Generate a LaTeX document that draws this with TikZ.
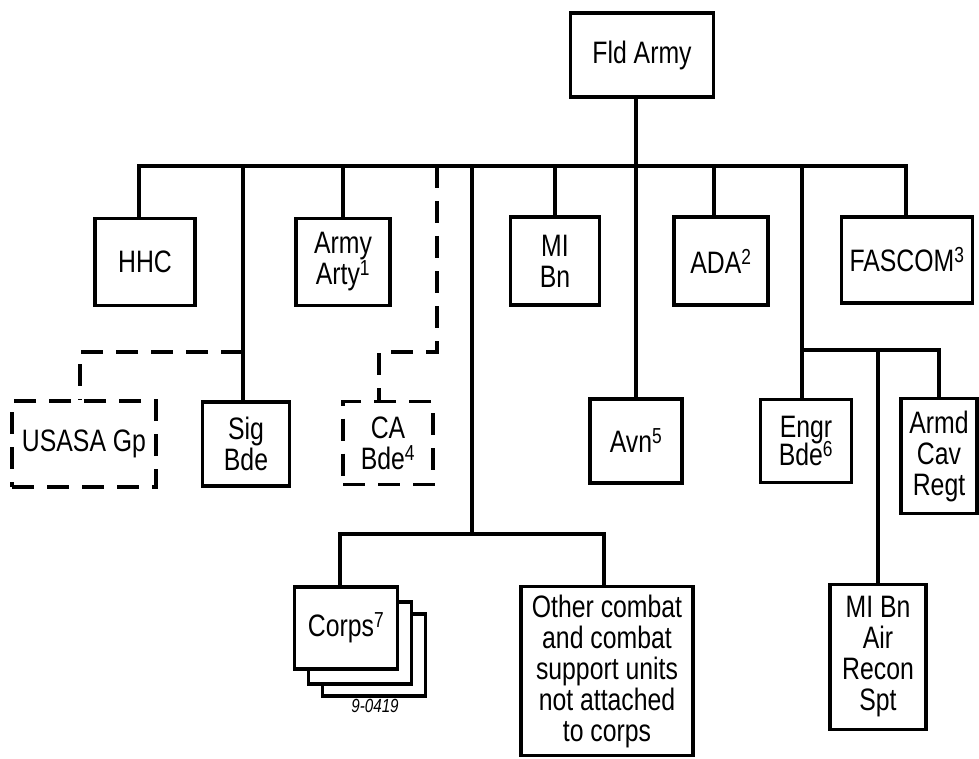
\documentclass[tikz,border=0pt]{standalone}
\usepackage{fontspec}
\setmainfont{Liberation Sans}[FakeStretch=0.8]
\begin{document}
\begin{tikzpicture}[x=1pt,y=-1pt,
  box/.style={draw, line width=3.5pt, inner sep=0pt, align=center, fill=white,
              font=\fontsize{31}{31}\selectfont},
  dbox/.style={box, dash pattern=on 22pt off 13pt},
  conn/.style={line width=4pt, line cap=rect},
  dconn/.style={line width=4pt, dash pattern=on 22pt off 13pt}]
\useasboundingbox (0,0) rectangle (979,759);
% boxes
\node[box, minimum width=143pt, minimum height=84pt] (fld) at (642,55) {Fld Army};
\node[box, minimum width=100pt, minimum height=87pt] (hhc) at (145,262) {HHC};
\node[box, minimum width=94pt, minimum height=87pt] (arty) at (343,262) {Army\\Arty\textsuperscript{1}};
\node[box, minimum width=89pt, minimum height=88pt] (mibn) at (555,261) {MI\\Bn};
\node[box, minimum width=94pt, minimum height=88pt] (ada) at (721,261) {ADA\textsuperscript{2}};
\node[box, minimum width=131pt, minimum height=86pt] (fascom) at (907,260) {FASCOM\textsuperscript{3}};
\node[dbox, minimum width=144pt, minimum height=86pt] (usasa) at (84,444) {USASA Gp};
\node[box, minimum width=87pt, minimum height=84pt] (sig) at (246,444) {Sig\\Bde};
\node[dbox, minimum width=90pt, minimum height=83pt] (ca) at (388,443) {CA\\Bde\textsuperscript{4}};
\node[box, minimum width=92pt, minimum height=84pt] (avn) at (636,441) {Avn\textsuperscript{5}};
\node[box, minimum width=91pt, minimum height=83pt] (engr) at (806,441) {Engr\\[-3pt]Bde\textsuperscript{6}};
\node[box, minimum width=76pt, minimum height=115pt] (armd) at (939,456) {Armd\\Cav\\Regt};
\node[box, minimum width=103pt, minimum height=82pt] (corpsc) at (374,655) {};
\node[box, minimum width=103pt, minimum height=82pt] (corpsb) at (360,643) {};
\node[box, minimum width=103pt, minimum height=82pt] (corps) at (346,628) {Corps\textsuperscript{7}};
\node[box, minimum width=172pt, minimum height=169pt] (other) at (607,671) {Other combat\\and combat\\support units\\not attached\\to corps};
\node[box, minimum width=96pt, minimum height=145pt] (miair) at (878,657) {MI Bn\\Air\\Recon\\Spt};
\node[font=\fontsize{19}{20}\selectfont\itshape] (code) at (375,706) {9-0419};
% bus coordinates
\coordinate (bL) at (139,166);
\coordinate (bR) at (906,166);
\coordinate (tr) at (636,166);
\coordinate (sg) at (243,166);
\coordinate (sgj) at (243,352);
\coordinate (cat) at (437,166);
\coordinate (caj) at (437,352);
\coordinate (lt) at (472,166);
\coordinate (lb) at (472,534);
\coordinate (et) at (802,166);
\coordinate (ej) at (802,350);
% connectors
\draw[conn] (bL) -- (bR);
\draw[conn] (tr |- fld.south) -- (tr |- avn.north);
\draw[conn] (bL) -- (bL |- hhc.north);
\draw[conn] (sg) -- (sg |- sig.north);
\draw[dconn] (sgj) -| ([xshift=-4pt]usasa.north);
\draw[conn] (arty.north |- bL) -- (arty.north);
\draw[dconn] (cat) -- (caj) -| ([xshift=-9pt]ca.north);
\draw[conn] (lt) -- (lb);
\draw[conn] ([xshift=-6pt]corps.north) |- (lb) -| ([xshift=-3pt]other.north);
\draw[conn] (mibn.north |- bL) -- (mibn.north);
\draw[conn] ([xshift=-7pt]ada.north |- bL) -- ([xshift=-7pt]ada.north);
\draw[conn] (bR) -- (bR |- fascom.north);
\draw[conn] (et) -- (et |- engr.north);
\draw[conn] (ej) -| (armd.north);
\draw[conn] (miair.north |- ej) -- (miair.north);
\end{tikzpicture}
\end{document}
